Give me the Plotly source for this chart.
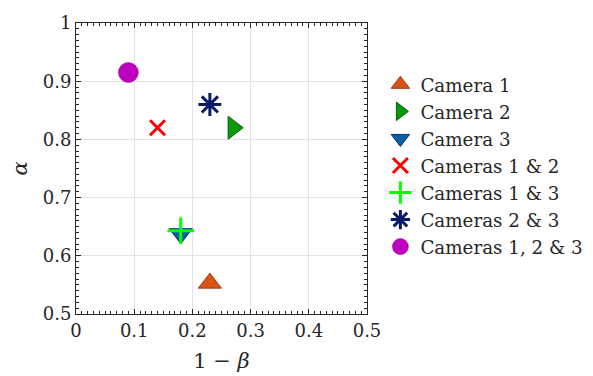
import plotly.graph_objects as go

names = ["Camera 1", "Camera 2", "Camera 3", "Cameras 1 &amp; 2", "Cameras 1 &amp; 3",
         "Cameras 2 &amp; 3", "Cameras 1, 2 &amp; 3"]
x_vals = [0.23, 0.27, 0.18, 0.14, 0.18, 0.23, 0.09]
y_vals = [0.553, 0.82, 0.638, 0.82, 0.643, 0.86, 0.915]
symbols = ["triangle-up", "triangle-right", "triangle-down", "x-thin-open",
           "cross-thin-open", "asterisk-open", "circle"]
colors = ["#D95319", "#089908", "#0A5FA0", "#FF0000", "#00FF00", "#0A1A6A", "#BF00BF"]
sizes = [20, 20, 20, 15, 19, 19, 20]
line_colors = ["#A03A10", "#066006", "#0A2F70", "#FF0000", "#00FF00", "#0A1A6A", "#8F008F"]
line_widths = [1, 1, 1, 3, 3, 3, 0.5]

fig = go.Figure()
for n, xv, yv, s, c, sz, lc, lw in zip(names, x_vals, y_vals, symbols, colors, sizes, line_colors, line_widths):
    fig.add_trace(go.Scatter(
        x=[xv], y=[yv], mode="markers",
        name='<span style="font-size:18.3px">' + n + '</span>',
        marker=dict(symbol=s, color=c, size=sz, line=dict(color=lc, width=lw)),
    ))

font_family = "DejaVu Serif"
axis_common = dict(
    showline=True, linecolor="#262626", linewidth=1, mirror="ticks",
    ticks="inside", ticklen=5, tickcolor="#262626",
    showgrid=True, gridcolor="#E3E3E3", gridwidth=1, zeroline=False,
    automargin=False,
    tickfont=dict(family=font_family, size=18, color="#262626"),
    minor=dict(ticks="inside", ticklen=3, dtick=0.01, tickcolor="#262626", showgrid=False),
)
fig.update_xaxes(range=[0, 0.5], tickvals=[0, 0.1, 0.2, 0.3, 0.4, 0.5],
                 ticktext=["0", "0.1", "0.2", "0.3", "0.4", "0.5"],
                 title=dict(text="1 − <i>β</i>", font=dict(family=font_family, size=21, color="#262626"), standoff=13),
                 **axis_common)
fig.update_yaxes(range=[0.5, 1], tickvals=[0.5, 0.6, 0.7, 0.8, 0.9, 1.0],
                 ticktext=["0.5", "0.6", "0.7", "0.8", "0.9", "1"],
                 title=dict(text="<i>α</i>", font=dict(family=font_family, size=21, color="#262626"), standoff=10),
                 **axis_common)

fig.update_layout(
    width=585, height=368,
    margin=dict(l=68, r=225.5, t=14.7, b=62, autoexpand=False),
    paper_bgcolor="white", plot_bgcolor="white",
    font=dict(family=font_family, size=18, color="#262626"),
    legend=dict(x=1.046, y=0.853, xanchor="left", yanchor="top",
                font=dict(family=font_family, size=18.5, color="#262626"),
                tracegroupgap=0, itemsizing="trace", bgcolor="rgba(0,0,0,0)"),
    showlegend=True,
)

fig.write_html("out.html")
